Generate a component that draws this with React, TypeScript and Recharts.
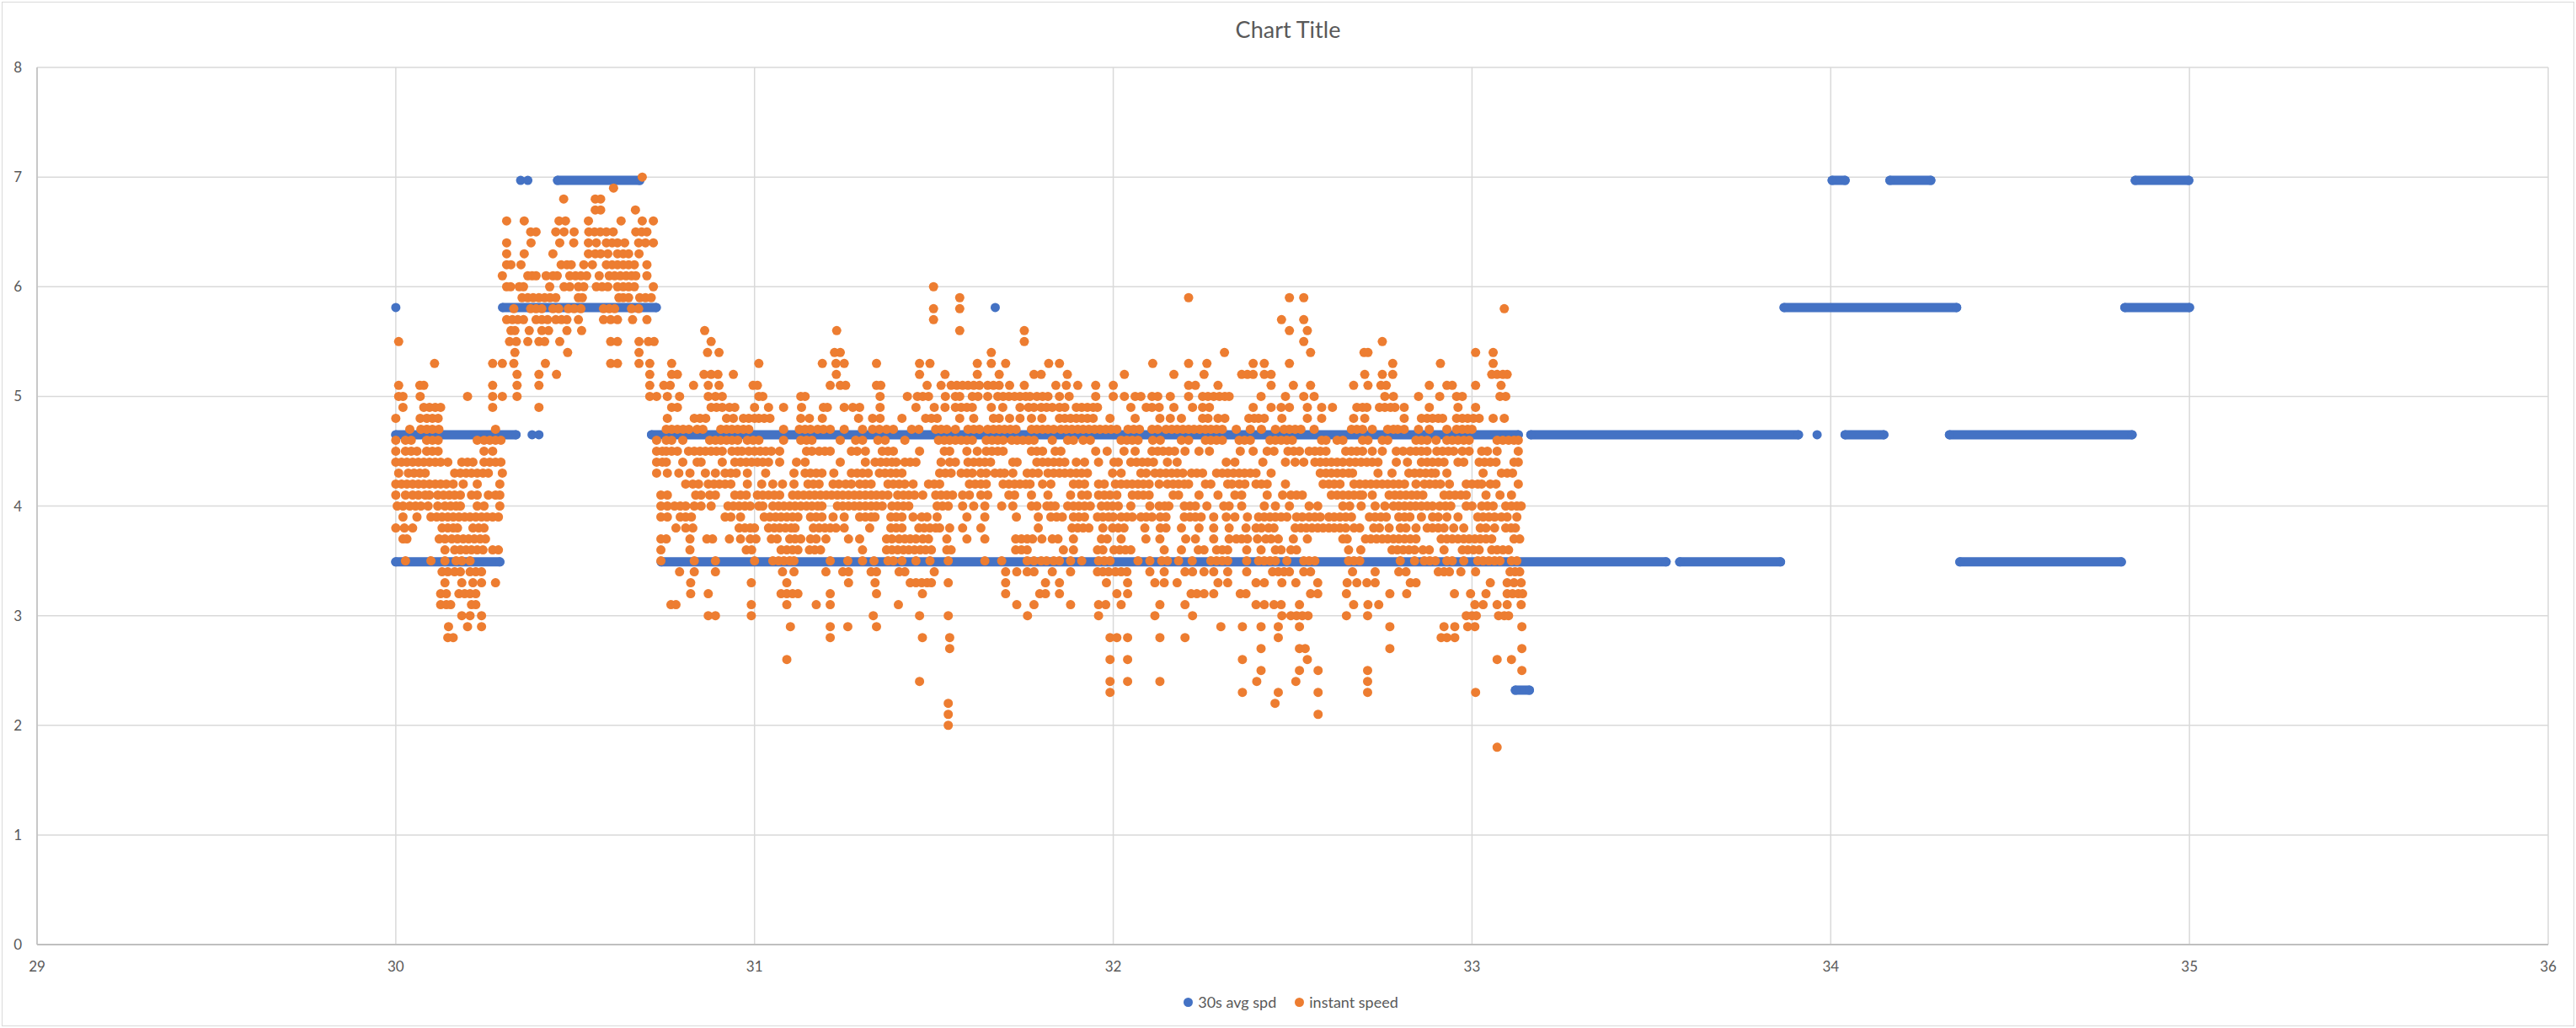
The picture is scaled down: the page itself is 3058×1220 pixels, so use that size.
import { ScatterChart, Scatter, XAxis, YAxis, CartesianGrid, Legend } from 'recharts';

const BLUE = '#4472C4';
const ORANGE = '#ED7D31';
const TEXT = '#595959';
const FONT = 'Lato, "Open Sans", sans-serif';

const xTicks = [29, 30, 31, 32, 33, 34, 35, 36];
const yTicks = [0, 1, 2, 3, 4, 5, 6, 7, 8];

// 30s avg spd: long flat stretches [level, from, to] and lone points
const avgRuns: [number, number, number][] = [
  [4.65, 30.0, 30.335],
  [4.65, 30.713, 33.129],
  [4.65, 33.164, 33.91],
  [4.65, 34.04, 34.148],
  [4.65, 34.331, 34.84],
  [3.49, 30.0, 30.29],
  [3.49, 30.74, 33.541],
  [3.49, 33.579, 33.86],
  [3.49, 34.36, 34.81],
  [5.81, 30.298, 30.726],
  [5.81, 33.87, 34.351],
  [5.81, 34.82, 35.0],
  [6.97, 30.451, 30.68],
  [6.97, 34.004, 34.04],
  [6.97, 34.165, 34.279],
  [6.97, 34.849, 34.998],
  [2.32, 33.121, 33.16],
];

const avgDots = [
  { x: 30.0, y: 5.81 },
  { x: 31.671, y: 5.81 },
  { x: 30.348, y: 6.97 },
  { x: 30.368, y: 6.97 },
  { x: 30.38, y: 4.65 },
  { x: 30.399, y: 4.65 },
  { x: 33.962, y: 4.65 },
];

// instant speed: for each speed level, the x positions where a point sits
const instantRows: [number, number[]][] = [
  [7.0, [30.687]],
  [6.9, [30.607]],
  [6.8, [30.468, 30.556, 30.571]],
  [6.7, [30.556, 30.571, 30.668]],
  [6.6, [30.309, 30.358, 30.455, 30.473, 30.537, 30.628, 30.687, 30.718]],
  [6.5, [30.376, 30.391, 30.446, 30.469, 30.497, 30.538, 30.554, 30.57, 30.587, 30.606, 30.669, 30.685, 30.7]],
  [6.4, [30.309, 30.377, 30.457, 30.496, 30.537, 30.559, 30.587, 30.603, 30.618, 30.638, 30.677, 30.696, 30.718]],
  [6.3, [30.309, 30.358, 30.438, 30.537, 30.556, 30.571, 30.591, 30.618, 30.634, 30.649, 30.678]],
  [6.2, [30.309, 30.321, 30.349, 30.461, 30.477, 30.489, 30.524, 30.548, 30.587, 30.603, 30.618, 30.634, 30.649, 30.665, 30.7]],
  [6.1, [30.297, 30.368, 30.38, 30.391, 30.419, 30.438, 30.45, 30.485, 30.501, 30.516, 30.532, 30.567, 30.595, 30.61, 30.626, 30.642, 30.657, 30.669, 30.7]],
  [6.0, [30.309, 30.32, 30.344, 30.356, 30.429, 30.469, 30.485, 30.509, 30.524, 30.559, 30.575, 30.591, 30.618, 30.634, 30.649, 30.665, 30.718, 31.499]],
  [5.9, [30.352, 30.368, 30.383, 30.399, 30.415, 30.43, 30.446, 30.509, 30.52, 30.622, 30.634, 30.649, 30.68, 30.696, 30.712, 31.572, 32.21, 32.491, 32.531]],
  [5.8, [30.329, 30.376, 30.391, 30.407, 30.438, 30.454, 30.481, 30.497, 30.516, 30.579, 30.595, 30.61, 30.657, 30.677, 31.499, 31.572, 33.09]],
  [5.7, [30.309, 30.325, 30.34, 30.356, 30.391, 30.407, 30.423, 30.446, 30.462, 30.477, 30.509, 30.579, 30.599, 30.618, 30.66, 30.7, 31.499, 32.469, 32.531]],
  [5.6, [30.321, 30.332, 30.372, 30.407, 30.426, 30.477, 30.518, 30.861, 31.229, 31.572, 31.752, 32.491, 32.541]],
  [5.5, [30.008, 30.317, 30.336, 30.368, 30.399, 30.415, 30.457, 30.599, 30.618, 30.678, 30.704, 30.72, 30.879, 31.752, 32.531, 32.75]],
  [5.4, [30.332, 30.479, 30.678, 30.869, 30.901, 31.223, 31.239, 31.66, 32.31, 32.55, 32.699, 32.71, 33.01, 33.059]],
  [5.3, [30.108, 30.27, 30.297, 30.329, 30.417, 30.599, 30.618, 30.678, 30.708, 30.769, 31.012, 31.189, 31.227, 31.25, 31.34, 31.46, 31.489, 31.621, 31.66, 31.7, 31.82, 31.85, 32.11, 32.21, 32.261, 32.39, 32.421, 32.491, 32.779, 32.912, 33.059]],
  [5.2, [30.338, 30.399, 30.448, 30.708, 30.769, 30.785, 30.859, 30.879, 30.898, 30.941, 31.228, 31.46, 31.531, 31.621, 31.682, 31.779, 31.799, 31.872, 32.031, 32.169, 32.253, 32.358, 32.374, 32.39, 32.421, 32.44, 32.701, 32.75, 32.779, 33.055, 33.07, 33.086, 33.098]],
  [5.1, [30.008, 30.067, 30.078, 30.27, 30.338, 30.399, 30.708, 30.747, 30.765, 30.83, 30.871, 30.901, 30.996, 31.008, 31.211, 31.239, 31.254, 31.34, 31.352, 31.481, 31.52, 31.548, 31.564, 31.58, 31.595, 31.611, 31.627, 31.65, 31.666, 31.682, 31.711, 31.752, 31.84, 31.869, 31.901, 31.951, 32.0, 32.21, 32.229, 32.292, 32.44, 32.502, 32.55, 32.67, 32.71, 32.746, 32.761, 32.881, 32.93, 32.945, 33.01, 33.081]],
  [5.0, [30.008, 30.02, 30.068, 30.2, 30.27, 30.297, 30.338, 30.708, 30.727, 30.757, 30.791, 30.871, 30.891, 30.91, 31.012, 31.023, 31.129, 31.141, 31.35, 31.426, 31.454, 31.469, 31.485, 31.532, 31.56, 31.572, 31.607, 31.623, 31.65, 31.678, 31.693, 31.709, 31.725, 31.74, 31.756, 31.768, 31.787, 31.803, 31.818, 31.85, 31.877, 31.951, 32.0, 32.031, 32.061, 32.077, 32.108, 32.124, 32.159, 32.21, 32.249, 32.264, 32.28, 32.296, 32.311, 32.323, 32.412, 32.48, 32.531, 32.56, 32.757, 32.781, 32.851, 32.91, 32.957, 32.973, 33.078, 33.094]],
  [4.9, [30.02, 30.078, 30.094, 30.11, 30.125, 30.27, 30.399, 30.769, 30.785, 30.879, 30.894, 30.91, 30.93, 30.945, 31.0, 31.039, 31.081, 31.131, 31.192, 31.203, 31.25, 31.274, 31.293, 31.35, 31.45, 31.501, 31.531, 31.56, 31.576, 31.592, 31.607, 31.66, 31.692, 31.74, 31.764, 31.779, 31.799, 31.814, 31.83, 31.85, 31.865, 31.897, 31.912, 31.928, 31.944, 31.956, 32.049, 32.092, 32.108, 32.128, 32.169, 32.221, 32.249, 32.268, 32.39, 32.44, 32.468, 32.491, 32.541, 32.581, 32.611, 32.679, 32.695, 32.707, 32.742, 32.757, 32.773, 32.785, 32.811, 32.881, 32.961, 33.01]],
  [4.8, [30.0, 30.068, 30.086, 30.102, 30.118, 30.757, 30.832, 30.848, 30.864, 30.922, 30.941, 30.969, 30.984, 31.0, 31.012, 31.027, 31.043, 31.129, 31.153, 31.189, 31.29, 31.329, 31.35, 31.411, 31.477, 31.493, 31.509, 31.572, 31.611, 31.666, 31.682, 31.711, 31.74, 31.772, 31.801, 31.85, 31.865, 31.881, 31.897, 31.912, 31.928, 31.944, 31.991, 32.061, 32.13, 32.159, 32.19, 32.249, 32.264, 32.292, 32.311, 32.378, 32.393, 32.405, 32.421, 32.47, 32.541, 32.581, 32.67, 32.701, 32.811, 32.859, 32.875, 32.89, 32.906, 32.918, 32.957, 32.973, 32.988, 33.004, 33.02, 33.059, 33.09]],
  [4.7, [30.039, 30.07, 30.086, 30.102, 30.12, 30.278, 30.754, 30.769, 30.785, 30.801, 30.817, 30.84, 30.856, 30.906, 30.922, 30.937, 30.953, 30.969, 30.984, 31.081, 31.125, 31.141, 31.156, 31.176, 31.192, 31.211, 31.25, 31.301, 31.329, 31.348, 31.368, 31.387, 31.438, 31.458, 31.505, 31.52, 31.536, 31.56, 31.595, 31.611, 31.627, 31.65, 31.666, 31.682, 31.697, 31.713, 31.729, 31.772, 31.787, 31.803, 31.818, 31.834, 31.854, 31.869, 31.885, 31.901, 31.916, 31.932, 31.948, 31.963, 31.979, 31.994, 32.01, 32.041, 32.057, 32.073, 32.108, 32.124, 32.147, 32.163, 32.178, 32.194, 32.21, 32.225, 32.241, 32.257, 32.272, 32.288, 32.304, 32.343, 32.382, 32.413, 32.452, 32.476, 32.491, 32.507, 32.523, 32.56, 32.664, 32.679, 32.695, 32.722, 32.765, 32.781, 32.793, 32.811, 32.851, 32.881, 32.93, 32.957, 32.973, 32.988, 33.0]],
  [4.6, [30.0, 30.027, 30.043, 30.086, 30.102, 30.118, 30.227, 30.246, 30.262, 30.278, 30.293, 30.727, 30.754, 30.769, 30.8, 30.875, 30.891, 30.906, 30.922, 30.937, 30.953, 30.98, 30.996, 31.012, 31.081, 31.129, 31.145, 31.16, 31.239, 31.282, 31.301, 31.344, 31.364, 31.419, 31.513, 31.529, 31.544, 31.56, 31.576, 31.592, 31.607, 31.646, 31.662, 31.678, 31.693, 31.717, 31.732, 31.748, 31.764, 31.779, 31.83, 31.873, 31.889, 31.916, 31.936, 32.022, 32.038, 32.053, 32.069, 32.11, 32.131, 32.19, 32.21, 32.257, 32.272, 32.288, 32.304, 32.351, 32.366, 32.382, 32.437, 32.452, 32.468, 32.484, 32.499, 32.581, 32.593, 32.624, 32.64, 32.695, 32.71, 32.75, 32.765, 32.844, 32.859, 32.875, 32.9, 32.93, 32.945, 32.961, 32.977, 32.992, 33.07, 33.086, 33.102, 33.117, 33.129]],
  [4.5, [30.0, 30.027, 30.043, 30.059, 30.086, 30.102, 30.118, 30.246, 30.27, 30.727, 30.743, 30.754, 30.769, 30.785, 30.816, 30.832, 30.848, 30.863, 30.879, 30.894, 30.91, 30.937, 30.953, 30.965, 30.984, 31.0, 31.016, 31.031, 31.047, 31.07, 31.145, 31.16, 31.18, 31.196, 31.211, 31.27, 31.286, 31.309, 31.356, 31.372, 31.387, 31.46, 31.529, 31.544, 31.592, 31.621, 31.646, 31.662, 31.678, 31.693, 31.772, 31.787, 31.803, 31.838, 31.854, 31.951, 31.983, 32.03, 32.061, 32.108, 32.124, 32.139, 32.155, 32.171, 32.2, 32.239, 32.268, 32.354, 32.39, 32.429, 32.448, 32.487, 32.503, 32.519, 32.546, 32.562, 32.577, 32.593, 32.648, 32.664, 32.679, 32.695, 32.722, 32.75, 32.789, 32.808, 32.828, 32.844, 32.859, 32.875, 32.902, 32.918, 32.934, 32.949, 32.973, 32.992, 33.027, 33.043, 33.07, 33.129]],
  [4.4, [30.0, 30.016, 30.031, 30.047, 30.063, 30.078, 30.094, 30.11, 30.125, 30.145, 30.184, 30.2, 30.215, 30.246, 30.262, 30.278, 30.293, 30.727, 30.743, 30.754, 30.8, 30.84, 30.851, 30.91, 30.945, 30.961, 30.977, 30.992, 31.008, 31.023, 31.039, 31.07, 31.117, 31.141, 31.239, 31.309, 31.336, 31.352, 31.368, 31.383, 31.395, 31.419, 31.434, 31.45, 31.52, 31.544, 31.56, 31.595, 31.611, 31.627, 31.642, 31.658, 31.72, 31.732, 31.787, 31.803, 31.818, 31.834, 31.85, 31.865, 31.897, 31.92, 31.959, 32.002, 32.014, 32.049, 32.065, 32.081, 32.096, 32.112, 32.151, 32.178, 32.315, 32.339, 32.417, 32.48, 32.507, 32.531, 32.562, 32.577, 32.593, 32.608, 32.624, 32.64, 32.659, 32.675, 32.691, 32.707, 32.722, 32.738, 32.789, 32.82, 32.859, 32.875, 32.89, 32.906, 32.922, 32.961, 32.977, 33.02, 33.035, 33.051, 33.067, 33.117, 33.129]],
  [4.3, [30.008, 30.035, 30.051, 30.067, 30.082, 30.164, 30.18, 30.196, 30.211, 30.227, 30.243, 30.258, 30.297, 30.727, 30.757, 30.789, 30.82, 30.863, 30.891, 30.918, 30.934, 30.949, 30.98, 31.031, 31.11, 31.141, 31.156, 31.172, 31.188, 31.221, 31.27, 31.286, 31.301, 31.317, 31.348, 31.364, 31.38, 31.395, 31.411, 31.516, 31.532, 31.548, 31.576, 31.592, 31.607, 31.631, 31.646, 31.67, 31.685, 31.697, 31.72, 31.76, 31.775, 31.791, 31.818, 31.834, 31.85, 31.865, 31.881, 31.897, 31.912, 31.928, 31.998, 32.022, 32.077, 32.092, 32.116, 32.131, 32.147, 32.163, 32.178, 32.194, 32.218, 32.233, 32.249, 32.288, 32.304, 32.319, 32.335, 32.351, 32.366, 32.382, 32.398, 32.44, 32.577, 32.593, 32.608, 32.624, 32.64, 32.656, 32.667, 32.738, 32.777, 32.824, 32.84, 32.855, 32.871, 32.887, 32.898, 32.93, 33.031, 33.082, 33.098, 33.113]],
  [4.2, [30.0, 30.016, 30.031, 30.047, 30.063, 30.078, 30.094, 30.11, 30.125, 30.141, 30.16, 30.188, 30.227, 30.29, 30.808, 30.828, 30.844, 30.871, 30.887, 30.902, 30.918, 30.934, 30.98, 31.02, 31.051, 31.078, 31.11, 31.149, 31.164, 31.18, 31.219, 31.235, 31.254, 31.27, 31.293, 31.309, 31.325, 31.372, 31.387, 31.403, 31.419, 31.442, 31.485, 31.501, 31.516, 31.599, 31.615, 31.631, 31.646, 31.693, 31.709, 31.725, 31.74, 31.756, 31.768, 31.803, 31.826, 31.889, 31.904, 31.92, 31.959, 31.975, 32.006, 32.022, 32.038, 32.053, 32.069, 32.084, 32.1, 32.128, 32.151, 32.167, 32.182, 32.198, 32.21, 32.257, 32.272, 32.319, 32.331, 32.351, 32.367, 32.398, 32.413, 32.429, 32.48, 32.585, 32.601, 32.616, 32.632, 32.671, 32.687, 32.703, 32.718, 32.734, 32.75, 32.765, 32.781, 32.796, 32.812, 32.844, 32.867, 32.882, 32.898, 32.912, 32.937, 32.984, 33.0, 33.016, 33.027, 33.051, 33.067, 33.129]],
  [4.1, [30.0, 30.027, 30.047, 30.063, 30.082, 30.094, 30.117, 30.133, 30.149, 30.164, 30.18, 30.211, 30.227, 30.258, 30.278, 30.29, 30.739, 30.757, 30.836, 30.851, 30.875, 30.891, 30.945, 30.961, 30.977, 31.008, 31.023, 31.039, 31.055, 31.07, 31.106, 31.121, 31.137, 31.153, 31.168, 31.184, 31.2, 31.215, 31.231, 31.246, 31.262, 31.278, 31.293, 31.309, 31.325, 31.34, 31.356, 31.372, 31.399, 31.415, 31.43, 31.446, 31.469, 31.505, 31.52, 31.536, 31.552, 31.58, 31.599, 31.631, 31.65, 31.709, 31.725, 31.772, 31.818, 31.881, 31.912, 31.928, 31.959, 31.975, 31.991, 32.01, 32.053, 32.069, 32.084, 32.1, 32.167, 32.182, 32.239, 32.292, 32.339, 32.358, 32.429, 32.472, 32.495, 32.511, 32.527, 32.608, 32.624, 32.64, 32.656, 32.671, 32.687, 32.695, 32.722, 32.769, 32.785, 32.8, 32.816, 32.832, 32.847, 32.863, 32.922, 32.937, 32.953, 32.969, 32.984, 33.039, 33.078, 33.11]],
  [4.0, [30.004, 30.02, 30.039, 30.055, 30.07, 30.09, 30.117, 30.137, 30.153, 30.168, 30.18, 30.227, 30.246, 30.29, 30.739, 30.757, 30.777, 30.793, 30.808, 30.832, 30.851, 30.879, 30.926, 30.941, 30.957, 30.973, 30.988, 31.012, 31.023, 31.051, 31.067, 31.082, 31.098, 31.113, 31.129, 31.145, 31.16, 31.176, 31.188, 31.231, 31.246, 31.262, 31.278, 31.293, 31.309, 31.325, 31.34, 31.356, 31.383, 31.399, 31.415, 31.43, 31.509, 31.524, 31.54, 31.58, 31.611, 31.642, 31.689, 31.72, 31.772, 31.787, 31.815, 31.826, 31.838, 31.873, 31.889, 31.904, 31.92, 31.936, 31.967, 31.983, 31.998, 32.014, 32.049, 32.102, 32.128, 32.143, 32.155, 32.198, 32.214, 32.229, 32.261, 32.308, 32.323, 32.358, 32.421, 32.452, 32.491, 32.546, 32.57, 32.64, 32.659, 32.691, 32.73, 32.757, 32.781, 32.796, 32.812, 32.828, 32.843, 32.859, 32.875, 32.89, 32.91, 32.926, 32.941, 32.984, 33.0, 33.027, 33.043, 33.059, 33.094, 33.11, 33.125, 33.137]],
  [3.9, [30.02, 30.059, 30.098, 30.114, 30.129, 30.145, 30.16, 30.176, 30.192, 30.207, 30.223, 30.239, 30.254, 30.27, 30.286, 30.739, 30.757, 30.793, 30.808, 30.824, 30.918, 30.934, 30.961, 31.027, 31.043, 31.059, 31.074, 31.09, 31.106, 31.121, 31.156, 31.172, 31.188, 31.219, 31.25, 31.293, 31.309, 31.325, 31.336, 31.38, 31.395, 31.411, 31.442, 31.466, 31.481, 31.509, 31.592, 31.642, 31.73, 31.791, 31.826, 31.842, 31.858, 31.889, 31.904, 31.92, 31.956, 31.971, 31.987, 32.0, 32.022, 32.038, 32.053, 32.077, 32.092, 32.108, 32.131, 32.147, 32.198, 32.214, 32.229, 32.245, 32.28, 32.315, 32.339, 32.374, 32.405, 32.421, 32.437, 32.452, 32.468, 32.484, 32.511, 32.527, 32.546, 32.562, 32.577, 32.601, 32.616, 32.632, 32.648, 32.664, 32.714, 32.73, 32.746, 32.761, 32.796, 32.812, 32.827, 32.859, 32.89, 32.906, 32.93, 32.961, 33.016, 33.031, 33.047, 33.063, 33.082, 33.098, 33.125]],
  [3.8, [30.0, 30.024, 30.047, 30.129, 30.145, 30.16, 30.172, 30.215, 30.231, 30.246, 30.781, 30.808, 30.828, 30.957, 30.973, 30.988, 31.0, 31.039, 31.055, 31.07, 31.086, 31.102, 31.113, 31.164, 31.18, 31.196, 31.211, 31.227, 31.25, 31.321, 31.38, 31.395, 31.411, 31.458, 31.473, 31.489, 31.505, 31.516, 31.544, 31.58, 31.631, 31.791, 31.885, 31.901, 31.916, 31.932, 31.971, 31.998, 32.014, 32.03, 32.088, 32.131, 32.147, 32.19, 32.239, 32.28, 32.323, 32.37, 32.398, 32.413, 32.433, 32.448, 32.507, 32.523, 32.538, 32.554, 32.57, 32.585, 32.601, 32.616, 32.632, 32.648, 32.671, 32.687, 32.726, 32.742, 32.769, 32.8, 32.816, 32.844, 32.875, 32.89, 32.906, 32.922, 32.949, 32.977, 33.023, 33.039, 33.063, 33.094, 33.109, 33.121]],
  [3.7, [30.02, 30.031, 30.121, 30.137, 30.156, 30.172, 30.188, 30.203, 30.219, 30.235, 30.25, 30.739, 30.754, 30.82, 30.867, 30.883, 30.93, 30.961, 30.988, 31.004, 31.047, 31.063, 31.098, 31.113, 31.129, 31.156, 31.172, 31.199, 31.262, 31.293, 31.368, 31.383, 31.403, 31.419, 31.434, 31.45, 31.469, 31.485, 31.536, 31.592, 31.642, 31.728, 31.744, 31.76, 31.775, 31.801, 31.83, 31.846, 31.889, 31.967, 31.983, 32.022, 32.091, 32.13, 32.202, 32.229, 32.28, 32.323, 32.343, 32.358, 32.374, 32.402, 32.425, 32.44, 32.46, 32.502, 32.541, 32.64, 32.652, 32.703, 32.718, 32.734, 32.75, 32.765, 32.781, 32.796, 32.812, 32.828, 32.844, 32.914, 32.93, 32.945, 32.961, 32.977, 32.992, 33.008, 33.023, 33.039, 33.055, 33.117, 33.133]],
  [3.6, [30.137, 30.164, 30.18, 30.196, 30.211, 30.227, 30.243, 30.27, 30.286, 30.739, 30.82, 30.977, 30.992, 31.074, 31.09, 31.106, 31.121, 31.153, 31.168, 31.184, 31.301, 31.368, 31.383, 31.399, 31.415, 31.43, 31.446, 31.462, 31.477, 31.493, 31.536, 31.548, 31.728, 31.744, 31.76, 31.861, 31.889, 31.956, 31.971, 32.002, 32.018, 32.034, 32.049, 32.142, 32.19, 32.237, 32.253, 32.288, 32.304, 32.319, 32.372, 32.412, 32.452, 32.468, 32.495, 32.511, 32.656, 32.69, 32.777, 32.792, 32.808, 32.824, 32.84, 32.863, 32.881, 32.922, 32.973, 32.988, 33.004, 33.02, 33.055, 33.07, 33.086, 33.102]],
  [3.5, [30.027, 30.098, 30.137, 30.168, 30.184, 30.207, 30.739, 30.832, 30.891, 31.0, 31.051, 31.067, 31.082, 31.098, 31.11, 31.211, 31.26, 31.301, 31.333, 31.372, 31.387, 31.411, 31.45, 31.489, 31.54, 31.642, 31.689, 31.76, 31.779, 31.799, 31.814, 31.834, 31.85, 31.881, 31.912, 31.959, 31.975, 31.991, 32.069, 32.102, 32.135, 32.151, 32.182, 32.22, 32.272, 32.288, 32.304, 32.319, 32.372, 32.405, 32.421, 32.437, 32.452, 32.484, 32.531, 32.546, 32.562, 32.656, 32.671, 32.687, 32.8, 32.84, 32.867, 32.882, 32.898, 32.93, 32.945, 32.977, 33.016, 33.031, 33.047, 33.063, 33.078, 33.11, 33.125]],
  [3.4, [30.129, 30.145, 30.164, 30.18, 30.207, 30.223, 30.239, 30.791, 30.832, 30.891, 31.078, 31.11, 31.199, 31.246, 31.262, 31.325, 31.34, 31.403, 31.419, 31.501, 31.7, 31.731, 31.76, 31.779, 31.83, 31.881, 31.956, 31.971, 31.987, 32.006, 32.022, 32.038, 32.102, 32.142, 32.2, 32.221, 32.253, 32.28, 32.319, 32.372, 32.444, 32.46, 32.476, 32.491, 32.531, 32.55, 32.667, 32.73, 32.796, 32.816, 32.906, 32.922, 32.937, 32.969, 33.01, 33.106, 33.12, 33.133]],
  [3.3, [30.137, 30.184, 30.215, 30.239, 30.278, 30.822, 30.991, 31.09, 31.262, 31.336, 31.434, 31.45, 31.466, 31.481, 31.493, 31.54, 31.7, 31.811, 31.85, 31.981, 32.04, 32.116, 32.142, 32.178, 32.292, 32.319, 32.398, 32.421, 32.47, 32.509, 32.57, 32.652, 32.679, 32.707, 32.73, 32.828, 32.844, 33.051, 33.098, 33.117, 33.137]],
  [3.2, [30.125, 30.141, 30.176, 30.192, 30.207, 30.223, 30.822, 30.871, 31.074, 31.09, 31.106, 31.121, 31.211, 31.34, 31.468, 31.7, 31.795, 31.811, 31.85, 32.01, 32.04, 32.217, 32.233, 32.253, 32.28, 32.354, 32.37, 32.55, 32.57, 32.65, 32.771, 32.818, 32.951, 32.996, 33.039, 33.098, 33.113, 33.129, 33.141]],
  [3.1, [30.125, 30.141, 30.153, 30.211, 30.223, 30.767, 30.781, 30.991, 31.09, 31.172, 31.211, 31.401, 31.731, 31.779, 31.881, 31.959, 31.979, 32.022, 32.13, 32.2, 32.398, 32.421, 32.448, 32.468, 32.519, 32.67, 32.71, 32.74, 33.008, 33.031, 33.07, 33.098, 33.137]],
  [3.0, [30.184, 30.207, 30.239, 30.871, 30.891, 30.991, 31.331, 31.46, 31.54, 31.761, 31.959, 32.116, 32.221, 32.47, 32.495, 32.511, 32.527, 32.543, 32.65, 32.709, 32.984, 33.0, 33.012, 33.074, 33.09, 33.102]],
  [2.9, [30.147, 30.2, 30.239, 31.1, 31.211, 31.26, 31.34, 32.3, 32.36, 32.412, 32.46, 32.519, 32.771, 32.922, 32.952, 32.988, 33.008, 33.139]],
  [2.8, [30.145, 30.16, 31.211, 31.468, 31.544, 31.991, 32.01, 32.04, 32.13, 32.2, 32.46, 32.914, 32.93, 32.952]],
  [2.7, [31.544, 32.412, 32.519, 32.535, 32.771, 33.139]],
  [2.6, [31.09, 31.991, 32.04, 32.36, 32.541, 33.07, 33.11]],
  [2.5, [32.412, 32.519, 32.571, 32.709, 33.139]],
  [2.4, [31.46, 31.991, 32.04, 32.13, 32.4, 32.509, 32.709]],
  [2.3, [31.991, 32.36, 32.46, 32.571, 32.709, 33.01]],
  [2.2, [31.54, 32.451]],
  [2.1, [31.54, 32.571]],
  [2.0, [31.54]],
  [1.8, [33.07]],
];

const instantPoints = instantRows.flatMap(([y, xs]) => xs.map((x) => ({ x, y })));
const runSeries = avgRuns.map(([y, from, to]) => [
  { x: from, y },
  { x: to, y },
]);

const dot = (color: string) => (props: any) => (
  <circle cx={props.cx} cy={props.cy} r={5.5} fill={color} />
);

const renderLegend = (props: any) => {
  const items = (props.payload || []).filter((e: any) => e.type !== 'none');
  return (
    <div
      style={{
        display: 'flex',
        justifyContent: 'center',
        alignItems: 'center',
        height: 30,
        paddingLeft: 40,
        gap: 22,
        fontFamily: FONT,
        fontSize: 18,
        color: TEXT,
      }}
    >
      {items.map((e: any) => (
        <span key={e.value} style={{ display: 'flex', alignItems: 'center' }}>
          <svg width={11} height={11} style={{ marginRight: 6 }}>
            <circle cx={5.5} cy={5.5} r={5.5} fill={e.color} />
          </svg>
          {e.value}
        </span>
      ))}
    </div>
  );
};

export default function App() {
  return (
    <div style={{ position: 'absolute', left: 0, top: 0, width: 3058, height: 1220, background: '#fff' }}>
      <div
        style={{
          position: 'absolute',
          left: 2,
          top: 2,
          width: 3054,
          height: 1216,
          border: '1.5px solid #D9D9D9',
          boxSizing: 'border-box',
        }}
      />
      <div
        style={{
          position: 'absolute',
          left: 0,
          top: 20,
          width: 3058,
          textAlign: 'center',
          fontFamily: FONT,
          fontSize: 27,
          lineHeight: '30px',
          color: TEXT,
        }}
      >
        Chart Title
      </div>
      <ScatterChart width={3058} height={1220} margin={{ top: 80, right: 33, bottom: 16, left: 0 }}>
        <CartesianGrid stroke="#D9D9D9" strokeWidth={1.5} />
        <XAxis
          type="number"
          dataKey="x"
          domain={[29, 36]}
          ticks={xTicks}
          interval={0}
          height={53}
          tickSize={0}
          tickMargin={20}
          axisLine={{ stroke: '#BFBFBF', strokeWidth: 2 }}
          tickLine={false}
          tick={{ fill: TEXT, fontSize: 17, fontFamily: FONT }}
        />
        <YAxis
          type="number"
          dataKey="y"
          domain={[0, 8]}
          ticks={yTicks}
          interval={0}
          width={44}
          tickSize={0}
          tickMargin={18}
          axisLine={{ stroke: '#BFBFBF', strokeWidth: 1.5 }}
          tickLine={false}
          tick={{ fill: TEXT, fontSize: 17, fontFamily: FONT }}
        />
        <Legend verticalAlign="bottom" content={renderLegend} />
        <Scatter
          name="30s avg spd"
          data={avgDots}
          fill={BLUE}
          shape={dot(BLUE)}
          isAnimationActive={false}
        />
        {runSeries.map((run, i) => (
          <Scatter
            key={`run-${i}`}
            data={run}
            fill={BLUE}
            legendType="none"
            line={{ stroke: BLUE, strokeWidth: 11, strokeLinecap: 'round' }}
            shape={dot(BLUE)}
            isAnimationActive={false}
          />
        ))}
        <Scatter
          name="instant speed"
          data={instantPoints}
          fill={ORANGE}
          shape={dot(ORANGE)}
          isAnimationActive={false}
        />
      </ScatterChart>
    </div>
  );
}
